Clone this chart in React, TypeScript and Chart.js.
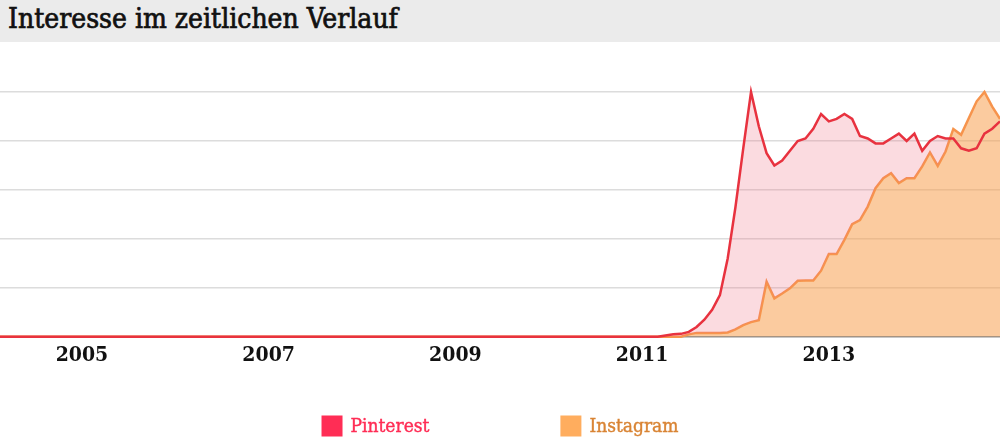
import React, { useEffect, useRef } from "react";
import { Chart, registerables } from "chart.js";

Chart.register(...registerables);

// ---- data (monthly values, index 0 = Jan 2004) ----
const seriesNames = ["Pinterest", "Instagram"];

const pinterest = [
  0, 0, 0, 0, 0, 0, 0, 0, 0, 0, 0, 0, // 2004
  0, 0, 0, 0, 0, 0, 0, 0, 0, 0, 0, 0, // 2005
  0, 0, 0, 0, 0, 0, 0, 0, 0, 0, 0, 0, // 2006
  0, 0, 0, 0, 0, 0, 0, 0, 0, 0, 0, 0, // 2007
  0, 0, 0, 0, 0, 0, 0, 0, 0, 0, 0, 0, // 2008
  0, 0, 0, 0, 0, 0, 0, 0, 0, 0, 0, 0, // 2009
  0, 0, 0, 0, 0, 0, 0, 0, 0, 0, 0, 0, // 2010
  0, 0, 0, 0.5, 1, 1.2, 2, 4, 7, 11, 17, 32, // 2011
  53, 77, 100, 86, 75, 70, 72, 76, 80, 81, 85, 91, // 2012
  88, 89, 91, 89, 82, 81, 79, 79, 81, 83, 80, 83, // 2013
  76, 80, 82, 81, 81, 77, 76, 77, 83, 85, 88, // 2014
];

const instagram = [
  0, 0, 0, 0, 0, 0, 0, 0, 0, 0, 0, 0, // 2004
  0, 0, 0, 0, 0, 0, 0, 0, 0, 0, 0, 0, // 2005
  0, 0, 0, 0, 0, 0, 0, 0, 0, 0, 0, 0, // 2006
  0, 0, 0, 0, 0, 0, 0, 0, 0, 0, 0, 0, // 2007
  0, 0, 0, 0, 0, 0, 0, 0, 0, 0, 0, 0, // 2008
  0, 0, 0, 0, 0, 0, 0, 0, 0, 0, 0, 0, // 2009
  0, 0, 0, 0, 0, 0, 0, 0, 0, 0, 0, 0, // 2010
  0, 0, 0, 0, 0, 0, 1, 1.6, 1.6, 1.6, 1.6, 1.8, // 2011
  3, 4.8, 6, 6.8, 22.5, 15.7, 17.7, 19.8, 22.9, 23, 23, 27, // 2012
  33.8, 33.8, 39.6, 46, 47.7, 53.2, 60.7, 64.8, 66.8, 62.8, 64.8, 64.8, // 2013
  69.6, 75.3, 69.8, 75.7, 84.9, 82.5, 89.4, 96.2, 100, 94, 89, // 2014
];

const tickMonths = [12, 36, 60, 84, 108];
const tickLabels = ["2005", "2007", "2009", "2011", "2013"];

const TITLE = "Interesse im zeitlichen Verlauf";
const FONT = '"DejaVu Serif Condensed", "DejaVu Serif", serif';

const lineColors = ["#e8323f", "#f7954c"];
const fillColors = ["rgba(240,110,130,0.25)", "rgba(247,160,80,0.55)"];
const legendBoxColors = ["#ff2d55", "#ffad5e"];
const legendTextColors = ["#ff2d55", "#d98434"];

const legendPlugin = {
  id: "bottomLegend",
  afterDraw(chart: any) {
    const ctx = chart.ctx as CanvasRenderingContext2D;
    ctx.save();
    ctx.font = `19px ${FONT}`;
    const box = 21;
    const gapText = 8;
    const gapItems = 131;
    const items = chart.data.datasets.map((ds: any, i: number) => ({
      text: ds.label as string,
      w: box + gapText + ctx.measureText(ds.label).width,
      i,
    }));
    const total =
      items.reduce((a: number, it: any) => a + it.w, 0) + gapItems * (items.length - 1);
    let x = (chart.width - total) / 2;
    const y = chart.height - 22;
    for (const it of items) {
      ctx.fillStyle = legendBoxColors[it.i];
      ctx.fillRect(x, y - box / 2, box, box);
      ctx.fillStyle = legendTextColors[it.i];
      ctx.strokeStyle = legendTextColors[it.i];
      ctx.lineWidth = 0.4;
      ctx.textBaseline = "middle";
      ctx.textAlign = "left";
      ctx.fillText(it.text, x + box + gapText, y + 1);
      ctx.strokeText(it.text, x + box + gapText, y + 1);
      x += it.w + gapItems;
    }
    ctx.restore();
  },
};

export default function App() {
  const ref = useRef<HTMLCanvasElement>(null);

  useEffect(() => {
    if (!ref.current) return;
    const chart = new Chart(ref.current, {
      type: "line",
      data: {
        datasets: [
          {
            label: seriesNames[0],
            data: pinterest.map((v, i) => ({ x: i, y: v })),
            borderColor: lineColors[0],
            borderWidth: 2.5,
            pointRadius: 0,
            tension: 0,
            clip: false as any,
            fill: { target: 1, above: fillColors[0], below: "rgba(0,0,0,0)" } as any,
          },
          {
            label: seriesNames[1],
            data: instagram.map((v, i) => ({ x: i, y: v })),
            borderColor: lineColors[1],
            backgroundColor: fillColors[1],
            borderWidth: 2.5,
            pointRadius: 0,
            tension: 0,
            clip: false as any,
            fill: "origin",
          },
        ],
      },
      options: {
        animation: false,
        responsive: false,
        events: [],
        layout: { padding: { top: 50, bottom: 74, left: 0, right: 0 } },
        plugins: {
          legend: { display: false },
          tooltip: { enabled: false },
          title: { display: false },
        },
        scales: {
          x: {
            type: "linear",
            min: 1.47,
            max: 130,
            grid: { display: false, drawTicks: false },
            border: { display: true, color: "#8f8f8f", width: 1.5 },
            afterBuildTicks: (scale: any) => {
              scale.ticks = tickMonths.map((v) => ({ value: v }));
            },
            ticks: {
              autoSkip: false,
              maxRotation: 0,
              padding: 6,
              color: "#111",
              font: { family: FONT, size: 21, weight: "bold" },
              callback: (value: any) => {
                const idx = tickMonths.indexOf(Number(value));
                return idx >= 0 ? tickLabels[idx] : "";
              },
            },
          },
          y: {
            min: 0,
            max: 100,
            ticks: { display: false, stepSize: 20 },
            grid: {
              drawTicks: false,
              lineWidth: 1.5,
              color: (ctx: any) => (ctx.tick && ctx.tick.value === 0 ? "rgba(0,0,0,0)" : "#dcdcdc"),
            },
            border: { display: false },
          },
        },
      },
      plugins: [legendPlugin],
    });
    return () => chart.destroy();
  }, []);

  return (
    <div
      style={{
        position: "absolute",
        left: 0,
        top: 0,
        width: 1000,
        height: 448,
        background: "#fff",
        overflow: "hidden",
      }}
    >
      <div
        style={{
          height: 42,
          background: "#ebebeb",
          fontFamily: FONT,
          fontSize: 28,
          lineHeight: "37px",
          color: "#111",
          paddingLeft: 8,
          boxSizing: "border-box",
          whiteSpace: "nowrap",
          WebkitTextStroke: "0.7px #111",
        }}
      >
        {TITLE}
      </div>
      <canvas ref={ref} width={1000} height={406} style={{ display: "block" }} />
    </div>
  );
}
